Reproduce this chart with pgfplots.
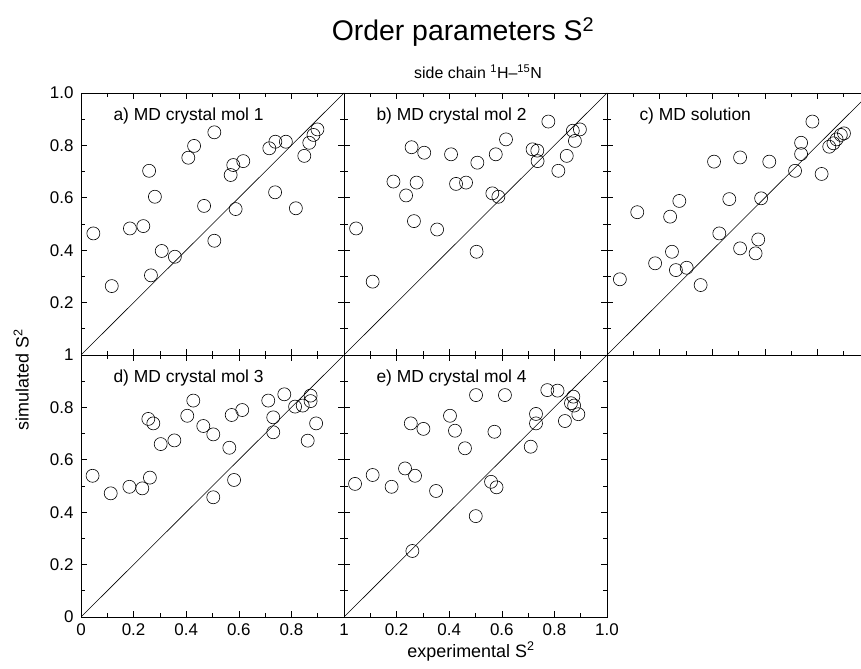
\documentclass[border=0pt]{standalone}
\usepackage{fontspec}
\setmainfont{Liberation Sans}
\usepackage{pgfplots}
\pgfplotsset{compat=1.18}
\pgfplotsset{
  panel/.style={
    scale only axis, width=263bp, height=262bp,
    anchor=south west,
    xmin=0, xmax=1, ymin=0, ymax=1,
    xtick={0,0.2,0.4,0.6,0.8,1}, ytick={0,0.2,0.4,0.6,0.8,1},
    minor xtick={0.1,0.3,0.5,0.7,0.9}, minor ytick={0.1,0.3,0.5,0.7,0.9},
    tick align=inside, xtick pos=both, ytick pos=both,
    major tick length=6bp, minor tick length=4bp,
    every tick/.style={black, line width=0.6bp},
    axis line style={black, line width=0.8bp},
    xticklabels={}, yticklabels={},
    tick label style={font=\fontsize{17}{20}\selectfont},
    xticklabel style={yshift=-3bp},
    yticklabel style={xshift=-4bp},
  },
  pts/.style={only marks, mark=o, mark size=6.5bp, mark options={line width=0.6bp, black}},
  diag/.style={black, line width=0.6bp, no marks},
}
\newcommand{\plab}[1]{\node[anchor=base west, xshift=29bp, yshift=-28bp, font=\fontsize{17.5}{20}\selectfont] at (rel axis cs:0,1) {#1};}
\begin{document}
\begin{tikzpicture}
\useasboundingbox (0,0) rectangle (861bp,669bp);
\clip (0,0) rectangle (861bp,669bp);

% a
\begin{axis}[panel, at={(81bp,314bp)}, yticklabels={,0.2,0.4,0.6,0.8,1.0}]
\addplot[diag] coordinates {(0,0) (1,1)};
\addplot[pts] coordinates {(0.047,0.464) (0.117,0.263) (0.186,0.483) (0.237,0.492) (0.259,0.703) (0.266,0.304) (0.281,0.604) (0.307,0.397) (0.357,0.375) (0.408,0.753) (0.430,0.798) (0.468,0.569) (0.507,0.850) (0.507,0.436) (0.569,0.687) (0.579,0.725) (0.588,0.557) (0.617,0.740) (0.716,0.789) (0.739,0.814) (0.738,0.621) (0.779,0.814) (0.817,0.560) (0.849,0.760) (0.868,0.810) (0.884,0.840) (0.899,0.861)};
\plab{a) MD crystal mol 1}
\end{axis}

% b
\begin{axis}[panel, at={(344bp,314bp)}]
\addplot[diag] coordinates {(0,0) (1,1)};
\addplot[pts] coordinates {(0.046,0.483) (0.109,0.280) (0.188,0.662) (0.236,0.609) (0.257,0.793) (0.266,0.511) (0.276,0.658) (0.305,0.772) (0.354,0.479) (0.407,0.766) (0.426,0.653) (0.464,0.658) (0.504,0.394) (0.507,0.734) (0.564,0.617) (0.577,0.766) (0.587,0.604) (0.616,0.823) (0.717,0.785) (0.735,0.780) (0.736,0.740) (0.777,0.891) (0.815,0.703) (0.847,0.760) (0.870,0.856) (0.878,0.817) (0.897,0.861)};
\plab{b) MD crystal mol 2}
\end{axis}

% c
\begin{axis}[panel, at={(607bp,314bp)}]
\addplot[diag] coordinates {(0,0) (1,1)};
\addplot[pts] coordinates {(0.049,0.289) (0.115,0.545) (0.183,0.350) (0.240,0.528) (0.247,0.394) (0.262,0.324) (0.275,0.588) (0.303,0.333) (0.356,0.267) (0.407,0.738) (0.427,0.464) (0.465,0.595) (0.506,0.754) (0.506,0.407) (0.565,0.388) (0.575,0.441) (0.586,0.598) (0.617,0.738) (0.715,0.703) (0.738,0.810) (0.738,0.767) (0.781,0.891) (0.816,0.691) (0.845,0.795) (0.861,0.808) (0.873,0.823) (0.889,0.840) (0.901,0.846)};
\plab{c) MD solution}
\end{axis}

% d
\begin{axis}[panel, at={(81bp,52bp)}, yticklabels={0,0.2,0.4,0.6,0.8,1}, xticklabels={0,0.2,0.4,0.6,0.8,1}]
\addplot[diag] coordinates {(0,0) (1,1)};
\addplot[pts] coordinates {(0.044,0.539) (0.113,0.472) (0.184,0.497) (0.233,0.491) (0.262,0.532) (0.256,0.756) (0.275,0.739) (0.303,0.660) (0.355,0.674) (0.404,0.768) (0.427,0.826) (0.465,0.729) (0.503,0.697) (0.503,0.457) (0.564,0.646) (0.573,0.771) (0.582,0.523) (0.613,0.790) (0.712,0.826) (0.731,0.762) (0.731,0.705) (0.773,0.850) (0.814,0.803) (0.843,0.807) (0.862,0.673) (0.873,0.845) (0.873,0.824) (0.894,0.739)};
\plab{d) MD crystal mol 3}
\end{axis}

% e
\begin{axis}[panel, at={(344bp,52bp)}, xticklabels={,0.2,0.4,0.6,0.8,1.0}]
\addplot[diag] coordinates {(0,0) (1,1)};
\addplot[pts] coordinates {(0.042,0.508) (0.109,0.542) (0.181,0.497) (0.232,0.567) (0.254,0.739) (0.270,0.539) (0.260,0.252) (0.302,0.718) (0.350,0.481) (0.403,0.768) (0.422,0.711) (0.460,0.644) (0.502,0.847) (0.501,0.385) (0.559,0.516) (0.572,0.707) (0.580,0.495) (0.612,0.847) (0.710,0.650) (0.730,0.775) (0.730,0.739) (0.773,0.866) (0.812,0.864) (0.840,0.748) (0.872,0.841) (0.863,0.816) (0.875,0.807) (0.891,0.774)};
\plab{e) MD crystal mol 4}
\end{axis}

\node[anchor=base, font=\fontsize{28.5}{32}\selectfont] at (463bp,628bp) {Order parameters S\textsuperscript{2}};
\node[anchor=base, font=\fontsize{16}{19}\selectfont] at (478bp,590bp) {side chain \textsuperscript{1}H\textendash\textsuperscript{15}N};
\node[anchor=base, font=\fontsize{18}{21}\selectfont] at (471bp,12bp) {experimental S\textsuperscript{2}};
\node[anchor=base, rotate=90, font=\fontsize{18}{21}\selectfont] at (28.5bp,289bp) {simulated S\textsuperscript{2}};
\end{tikzpicture}
\end{document}
